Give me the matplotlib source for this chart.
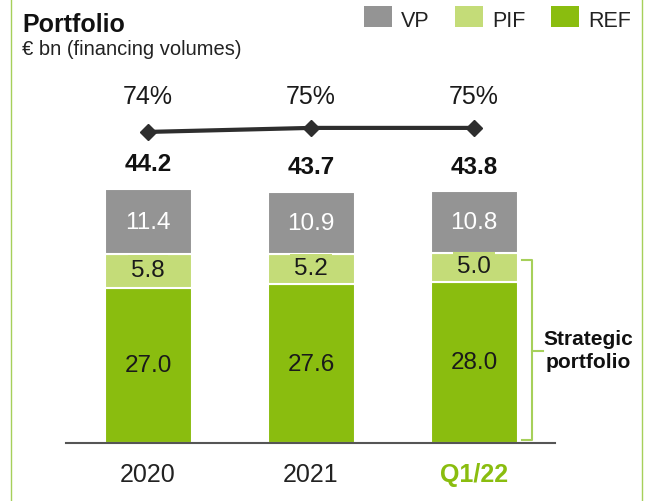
import matplotlib
matplotlib.use("Agg")
import matplotlib.pyplot as plt
from matplotlib.patches import Rectangle
import numpy as np

plt.rcParams['font.family'] = ['Liberation Sans', 'DejaVu Sans']

categories = ["2020", "2021", "Q1/22"]
ref = [27.0, 27.6, 28.0]
pif = [5.8, 5.2, 5.0]
vp = [11.4, 10.9, 10.8]
totals = [44.2, 43.7, 43.8]
share_pct = [74, 75, 75]
series_names = ["VP", "PIF", "REF"]

C_VP = "#949494"
C_PIF = "#c4dc78"
C_REF = "#8abd0f"
C_LINE = "#2e2e2e"

W, H = 646, 502
fig = plt.figure(figsize=(W / 100, H / 100), dpi=100)

def fx(px):
    return px / W

def fy(py):
    return 1 - py / H

scale = 5.75  # px per unit
ax_left, ax_right, ax_base = 66, 555, 444
ax = fig.add_axes([fx(ax_left), fy(ax_base), (ax_right - ax_left) / W, ax_base / H])
ax.set_ylim(0, ax_base / scale)
step = 163.0
ax.set_xlim(-(148 - ax_left) / step, 2 + (ax_right - 474) / step)

x = np.arange(len(categories))
bw = 87 / step
ax.bar(x, ref, bw, color=C_REF, edgecolor="white", linewidth=1.5, zorder=2)
ax.bar(x, pif, bw, bottom=ref, color=C_PIF, edgecolor="white", linewidth=1.5, zorder=2)
bot2 = np.array(ref) + np.array(pif)
ax.bar(x, vp, bw, bottom=bot2, color=C_VP, edgecolor="white", linewidth=1.5, zorder=2)

for i in range(len(categories)):
    ax.text(x[i], ref[i] / 2, f"{ref[i]:.1f}", ha="center", va="center",
            fontsize=17.5, color="#1a1a1a", zorder=4)
    ax.text(x[i], ref[i] + pif[i] / 2 + 0.2, f"{pif[i]:.1f}", ha="center", va="center",
            fontsize=17.5, color="#1a1a1a", zorder=4,
            bbox=dict(boxstyle="square,pad=0.15", facecolor=C_PIF, edgecolor="none"))
    ax.text(x[i], bot2[i] + vp[i] / 2, f"{vp[i]:.1f}", ha="center", va="center",
            fontsize=17.5, color="white", zorder=4)
    top = bot2[i] + vp[i]
    ax.annotate(f"{totals[i]:.1f}", (x[i], top), xytext=(0, 18), textcoords="offset points",
                ha="center", va="center", fontsize=17.5, fontweight="bold", color="#111111")

# share line
line_y = [54.1 + (p - 74) * 0.7 for p in share_pct]
ax.plot(x, line_y, color=C_LINE, lw=3, marker="D", markersize=8, zorder=3, clip_on=False)
for i, p in enumerate(share_pct):
    ax.text(x[i], 60.4, f"{p}%", ha="center", va="center", fontsize=18, color="#1a1a1a")

# axes styling
for s in ["top", "right", "left"]:
    ax.spines[s].set_visible(False)
ax.spines["bottom"].set_color("#555555")
ax.spines["bottom"].set_linewidth(1.5)
ax.set_yticks([])
ax.set_xticks(x)
ax.set_xticklabels(categories)
ax.tick_params(axis="x", length=0, pad=14, labelsize=18)
for lbl in ax.get_xticklabels():
    lbl.set_color("#222222")
last = ax.get_xticklabels()[-1]
last.set_color(C_REF)
last.set_fontweight("bold")

# Strategic portfolio bracket
bx = 2 + (532 - 474) / step
y_top = (ax_base - 261) / scale
y_bot = (ax_base - 441) / scale
y_mid = (ax_base - 352) / scale
x_in = 2 + (522 - 474) / step
x_tip = 2 + (543 - 474) / step
ax.plot([x_in, bx, bx, x_in], [y_top, y_top, y_bot, y_bot], color="#a6d05a", lw=1.5,
        clip_on=False, zorder=1)
ax.plot([bx, x_tip], [y_mid, y_mid], color="#a6d05a", lw=1.5, clip_on=False, zorder=1)
fig.text(fx(588), fy(351), "Strategic\nportfolio", ha="center", va="center",
         fontsize=15, fontweight="bold", color="#111111", linespacing=1.3)

# Title
fig.text(fx(22), fy(32), "Portfolio", ha="left", va="baseline", fontsize=18,
         fontweight="bold", color="#111111")
fig.text(fx(22), fy(55), "€ bn (financing volumes)", ha="left", va="baseline",
         fontsize=14.5, color="#222222")

# Legend
leg = [(364, "VP", C_VP), (455, "PIF", C_PIF), (551, "REF", C_REF)]
for (sx, name, c) in leg:
    fig.patches.append(Rectangle((fx(sx), fy(28)), 28 / W, 21 / H, transform=fig.transFigure,
                                 facecolor=c, edgecolor="none"))
    fig.text(fx(sx + 37), fy(27), name, ha="left", va="baseline", fontsize=15.5, color="#222222")

# side borders
for bxp in [11, 642]:
    fig.add_artist(plt.Line2D([fx(bxp), fx(bxp)], [0, 1], transform=fig.transFigure,
                              color="#a6d05a", lw=1))

fig.savefig("out.png", dpi=100)
